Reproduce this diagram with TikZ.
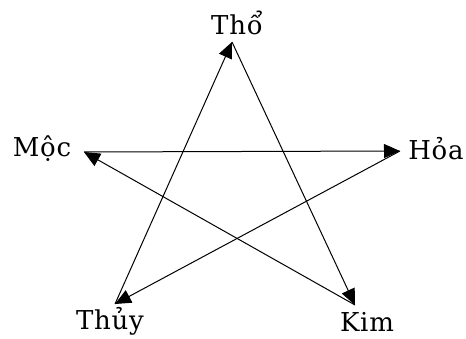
\documentclass[tikz,border=0pt]{standalone}
\usepackage{fontspec}
\setmainfont{DejaVu Serif}
\usetikzlibrary{arrows.meta,positioning}
\tikzset{
  khac/.style={
    -{Triangle[length=16pt,width=14pt]},
    line width=1pt,
    draw=black
  },
  hanh/.style={
    font=\fontsize{26}{30}\selectfont\addfontfeature{LetterSpace=3},
    inner sep=0pt
  }
}
\begin{document}
\begin{tikzpicture}[x=1pt,y=-1pt]
  \useasboundingbox[fill=white] (0,0) rectangle (466,339);

  % Star vertices.
  \coordinate (tho) at (232,42);
  \coordinate (moc) at (84,152);
  \coordinate (hoa) at (400,151);
  \coordinate (thuy) at (115,304);
  \coordinate (kim) at (355,305);

  % Element names.
  \node[hanh] (thoL) at (237,23) {Thổ};
  \node[hanh] (mocL) at (42,149) {Mộc};
  \node[hanh] (hoaL) at (436,149) {Hỏa};
  \node[hanh] (thuyL) at (110,321) {Thủy};
  \node[hanh] (kimL) at (367,322) {Kim};

  % Cycle.
  \draw[khac] (thuy) -- (tho);
  \draw[khac] (tho) -- (kim);
  \draw[khac] (kim) -- (moc);
  \draw[khac] (moc) -- (hoa);
  \draw[khac] (hoa) -- (thuy);
\end{tikzpicture}
\end{document}
